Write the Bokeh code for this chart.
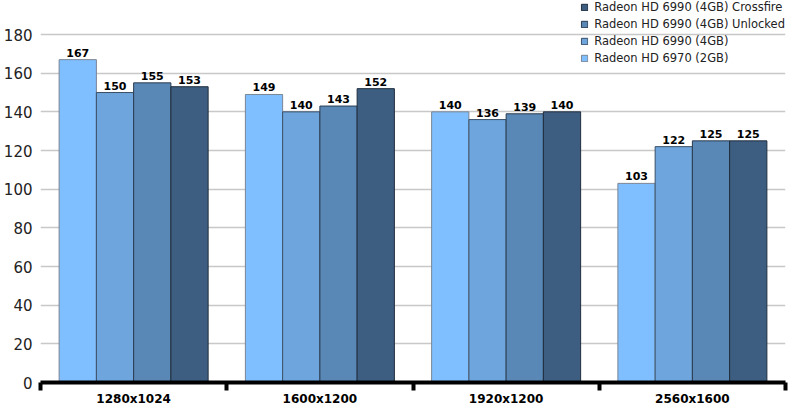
from bokeh.plotting import figure
from bokeh.models import Range1d, FixedTicker, SingleIntervalTicker, ColumnDataSource, Legend, LegendItem
from bokeh.transform import dodge
from bokeh.core.properties import value
from bokeh.embed import file_html
from bokeh.resources import INLINE

resolutions = ["1280x1024", "1600x1200", "1920x1200", "2560x1600"]
series_names = ["Radeon HD 6970 (2GB)", "Radeon HD 6990 (4GB)",
                "Radeon HD 6990 (4GB) Unlocked", "Radeon HD 6990 (4GB) Crossfire"]
hd6970_2gb = [167, 149, 140, 103]
hd6990_4gb = [150, 140, 136, 122]
hd6990_unlocked = [155, 143, 139, 125]
hd6990_crossfire = [153, 152, 140, 125]
y_ticks_interval = 20

fills = ["#7fbfff", "#6ea5dc", "#5a88b6", "#3d5e80"]
outlines = ["#7a8594", "#3a4f66", "#2a3b4f", "#1f2d3d"]
FONT = "DejaVu Sans"

centers = [i + 0.5 for i in range(len(resolutions))]
src = ColumnDataSource(dict(x=centers, s0=hd6970_2gb, s1=hd6990_4gb,
                            s2=hd6990_unlocked, s3=hd6990_crossfire,
                            l0=[str(v) for v in hd6970_2gb], l1=[str(v) for v in hd6990_4gb],
                            l2=[str(v) for v in hd6990_unlocked], l3=[str(v) for v in hd6990_crossfire]))

p = figure(width=795, height=408, output_backend="svg", toolbar_location=None,
           x_range=Range1d(0, len(resolutions)), y_range=Range1d(0, 197.6),
           min_border_left=37, min_border_right=10, min_border_top=0, min_border_bottom=10)
p.outline_line_color = None
p.background_fill_color = "white"
p.border_fill_color = "white"

bw = 0.2
offsets = [-0.3, -0.1, 0.1, 0.3]
renderers = []
for k in range(4):
    r = p.vbar(x=dodge("x", offsets[k], range=p.x_range), top="s%d" % k, width=bw, source=src,
               fill_color=fills[k], line_color=outlines[k], line_width=1)
    renderers.append(r)
    p.text(x=dodge("x", offsets[k], range=p.x_range), y="s%d" % k, text="l%d" % k, source=src,
           text_align="center", text_baseline="bottom", y_offset=-3,
           text_font=value(FONT), text_font_style="bold", text_font_size="11px", text_color="black")

# axes
p.xgrid.grid_line_color = None
p.ygrid.grid_line_color = "#c8c8c8"
p.ygrid.grid_line_width = 1.5
p.yaxis.ticker = SingleIntervalTicker(interval=y_ticks_interval)
p.yaxis.axis_line_color = None
p.yaxis.major_tick_line_color = None
p.yaxis.minor_tick_line_color = None
p.yaxis.major_tick_out = 0
p.yaxis.major_tick_in = 0
p.yaxis.major_label_text_font = FONT
p.yaxis.major_label_text_font_size = "15px"
p.yaxis.major_label_text_color = "#222222"
p.yaxis.major_label_standoff = 4

p.xaxis.ticker = FixedTicker(ticks=centers, minor_ticks=list(range(len(resolutions) + 1)))
p.xaxis.major_label_overrides = {c: lab for c, lab in zip(centers, resolutions)}
p.xaxis.axis_line_color = "black"
p.xaxis.axis_line_width = 4
p.xaxis.major_tick_line_color = None
p.xaxis.major_tick_out = 0
p.xaxis.major_tick_in = 0
p.xaxis.minor_tick_line_color = "black"
p.xaxis.minor_tick_line_width = 4
p.xaxis.minor_tick_out = 8
p.xaxis.minor_tick_in = 0
p.xaxis.major_label_standoff = 1
p.xaxis.major_label_text_font = FONT
p.xaxis.major_label_text_font_style = "bold"
p.xaxis.major_label_text_font_size = "12px"
p.xaxis.major_label_text_color = "black"

items = [LegendItem(label=series_names[k], renderers=[renderers[k]]) for k in [3, 2, 1, 0]]
legend = Legend(items=items, location="top_right", background_fill_alpha=0,
                border_line_color=None, label_text_font=FONT, label_text_font_size="11.5px",
                label_text_color="#222222", glyph_width=8, glyph_height=8, label_height=12,
                label_standoff=6, spacing=3, padding=4, margin=0)
p.add_layout(legend, "center")

open("out.html", "w").write(file_html(p, INLINE))
